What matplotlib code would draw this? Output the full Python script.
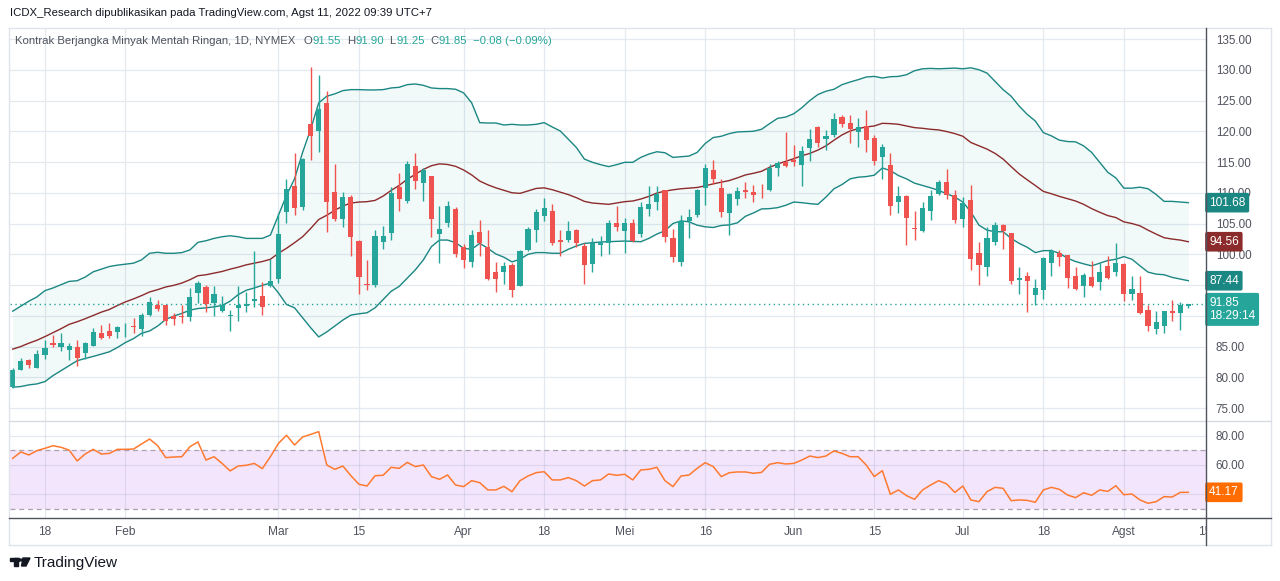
import numpy as np
import pandas as pd
import matplotlib
matplotlib.use('Agg')
import matplotlib.pyplot as plt
from matplotlib.lines import Line2D
from matplotlib.patches import Rectangle, Polygon, Circle
from matplotlib.transforms import blended_transform_factory, Bbox

plt.rcParams['font.family'] = ['Liberation Sans', 'DejaVu Sans']

# trading days shown (CME holidays left out)
dates = pd.bdate_range('2022-01-11', '2022-08-11')
holidays = pd.to_datetime(['2022-01-17', '2022-02-21', '2022-04-15',
                           '2022-05-30', '2022-06-20', '2022-07-04'])
dates = dates[~dates.isin(holidays)]

opens = [78.39, 81.24, 82.80, 81.56, 83.66, 85.59, 84.95, 84.46, 84.90, 83.98, 85.10, 87.15, 87.47, 87.37, 88.10, 88.30,
         87.80, 90.05, 91.80, 91.67, 89.90, 89.90, 89.73, 93.76, 94.73, 92.04, 90.75, 90.00, 91.24, 91.56, 92.42, 93.23,
         94.78, 95.90, 106.88, 111.18, 107.70, 121.18, 120.00, 124.57, 110.20, 105.75, 109.25, 102.15, 95.16, 95.05,
         102.04, 103.44, 110.86, 108.60, 114.41, 111.56, 112.74, 103.33, 105.10, 107.30, 101.13, 98.82, 103.55, 101.18,
         97.15, 97.04, 98.28, 94.89, 100.70, 103.92, 106.24, 106.99, 102.31, 102.31, 103.92, 101.34, 98.49, 101.51,
         101.88, 105.05, 103.82, 105.05, 103.33, 107.31, 108.49, 110.38, 102.63, 98.82, 105.43, 106.34, 110.75, 113.76,
         110.70, 106.67, 108.98, 110.38, 110.16, 110.16, 110.43, 113.98, 114.95, 115.32, 114.57, 117.31, 120.75, 118.76,
         119.41, 122.31, 121.34, 119.95, 120.81, 118.87, 115.75, 114.57, 108.49, 109.41, 104.30, 103.76, 107.04, 109.84,
         111.67, 109.57, 105.75, 108.76, 100.27, 98.01, 102.04, 104.73, 103.39, 95.75, 96.45, 93.33, 94.14, 98.66,
         100.22, 99.89, 96.51, 94.89, 96.34, 95.43, 98.12, 97.15, 98.44, 93.60, 93.76, 90.91, 87.90, 88.33, 90.70,
         90.38, 91.55]
highs = [81.45, 83.12, 82.90, 84.40, 86.02, 86.83, 87.15, 85.54, 86.00, 85.70, 87.96, 88.44, 88.76, 88.28, 88.76, 89.70,
         90.38, 93.10, 92.60, 91.75, 90.50, 91.67, 94.57, 95.70, 95.05, 94.90, 93.28, 91.00, 94.90, 93.90, 100.50, 95.54,
         99.25, 106.67, 112.30, 116.50, 115.60, 130.40, 129.20, 126.60, 114.70, 110.20, 109.57, 102.30, 99.10, 104.00,
         104.57, 111.00, 113.28, 115.20, 116.50, 114.03, 112.80, 107.80, 108.60, 107.69, 101.67, 103.92, 105.54, 103.92,
         98.76, 98.76, 98.66, 100.70, 104.46, 107.42, 109.09, 108.23, 103.92, 105.38, 104.14, 101.77, 102.58, 102.96,
         105.54, 107.90, 105.86, 105.70, 108.44, 111.13, 111.08, 110.45, 104.09, 106.34, 107.31, 110.65, 114.73, 115.38,
         112.26, 110.00, 110.86, 111.77, 111.34, 111.50, 114.68, 115.22, 119.95, 117.80, 117.63, 120.38, 120.91, 120.16,
         123.01, 122.63, 122.63, 122.15, 123.44, 119.41, 118.01, 116.51, 111.02, 109.57, 106.99, 108.44, 110.38, 112.15,
         113.92, 110.38, 109.30, 111.34, 102.04, 104.46, 105.22, 104.89, 103.45, 97.90, 97.10, 96.02, 99.62, 100.81,
         100.70, 99.95, 97.90, 96.94, 98.92, 98.55, 99.73, 101.88, 98.66, 96.40, 96.51, 91.83, 90.70, 90.81, 92.63,
         92.31, 91.90]
lows = [78.30, 81.20, 81.45, 81.50, 83.01, 84.95, 84.30, 82.85, 81.90, 82.96, 85.05, 86.18, 86.34, 86.34, 86.50, 87.15,
        86.67, 90.00, 90.70, 88.44, 88.44, 88.90, 89.10, 92.00, 90.60, 89.95, 90.60, 87.50, 89.14, 90.60, 91.40, 90.10,
        94.62, 95.30, 105.10, 106.40, 107.20, 115.40, 116.70, 103.66, 105.40, 104.50, 99.78, 93.50, 94.14, 94.73,
        100.90, 102.30, 107.04, 108.33, 110.60, 108.66, 102.85, 98.50, 104.46, 99.62, 97.69, 98.01, 99.78, 95.75,
        93.82, 95.22, 93.06, 94.78, 100.54, 102.04, 105.43, 101.51, 99.73, 101.99, 101.13, 95.22, 97.10, 99.78,
        100.11, 103.82, 100.27, 101.99, 102.85, 106.29, 107.15, 101.99, 98.82, 98.17, 102.63, 106.13, 107.96, 111.45,
        106.08, 103.17, 108.01, 109.09, 108.44, 109.09, 110.27, 112.80, 114.14, 114.41, 111.02, 115.11, 117.47, 116.99,
        119.09, 120.75, 118.12, 117.37, 116.56, 114.46, 112.20, 106.34, 106.72, 101.51, 102.31, 103.66, 105.54, 109.57,
        109.03, 105.11, 104.46, 97.37, 95.05, 96.51, 101.51, 100.86, 95.22, 93.60, 90.59, 91.72, 92.80, 96.51,
        98.12, 94.57, 94.25, 93.01, 94.70, 94.25, 95.97, 96.40, 92.37, 92.53, 90.30, 87.47, 86.99, 87.20, 89.09,
        87.69, 91.25]
closes = [81.18, 82.58, 82.04, 83.76, 84.73, 85.32, 85.54, 85.05, 83.17, 85.54, 87.30, 86.34, 86.67, 88.12, 88.20, 88.15,
          90.20, 92.31, 91.18, 89.14, 89.40, 89.80, 93.12, 95.38, 91.88, 93.60, 91.72, 90.16, 91.78, 91.99, 92.80, 91.40,
          95.70, 103.28, 110.54, 107.50, 115.50, 119.20, 123.55, 108.50, 105.75, 109.25, 102.85, 96.24, 94.95, 102.96,
          102.96, 109.90, 108.98, 114.73, 111.99, 113.76, 105.75, 104.03, 107.80, 100.10, 99.14, 103.12, 101.77, 96.02,
          95.97, 98.06, 94.14, 100.48, 104.03, 106.83, 107.47, 101.83, 102.04, 103.71, 101.88, 98.33, 101.77, 101.99,
          105.16, 104.46, 105.05, 102.15, 107.63, 108.12, 109.73, 102.85, 99.62, 105.48, 106.02, 110.43, 114.09, 112.20,
          106.83, 109.73, 110.22, 110.05, 109.62, 110.05, 114.03, 114.84, 114.41, 115.00, 116.72, 118.76, 118.17, 119.25,
          121.99, 121.24, 120.38, 120.70, 118.66, 115.11, 117.47, 107.85, 109.41, 105.91, 104.14, 107.47, 109.41, 111.67,
          109.57, 105.59, 108.33, 99.25, 98.33, 102.63, 104.73, 103.82, 95.59, 96.18, 95.59, 94.57, 99.41, 100.59,
          99.62, 96.18, 94.35, 96.67, 94.78, 97.15, 96.13, 98.66, 93.60, 94.41, 90.38, 88.33, 88.92, 90.70, 90.38,
          91.77, 91.85]

bb_upper = [90.75, 91.56, 92.37, 93.06, 94.09, 94.52, 95.05, 95.59, 95.70, 96.29, 97.15, 97.58, 98.01, 98.23, 98.39,
            98.55, 99.09, 100.16, 100.32, 100.16, 100.16, 100.27, 100.70, 101.94,
            102.20, 102.58, 102.85, 103.01, 102.85, 102.58, 102.58, 102.58, 103.12, 106.34, 109.57, 112.26, 116.56,
            120.32, 124.62, 125.70, 126.08, 126.61, 126.77, 126.77, 126.72, 126.72, 126.77, 127.04,
            127.15, 127.58, 127.69, 127.47, 127.04, 126.94, 126.94, 126.83, 126.24, 124.62, 121.40, 121.34, 121.34,
            121.02, 121.13, 121.02, 121.02, 121.13, 121.40, 120.70, 120.05, 118.71, 117.37, 115.48,
            114.95, 114.57, 114.25, 114.57, 114.95, 114.95, 115.75, 116.29, 116.67, 116.51, 115.75, 115.86, 115.97,
            116.56, 118.01, 118.98, 119.19, 119.62, 119.89, 119.95, 120.00, 120.32, 121.24, 122.10,
            122.31, 122.85, 123.82, 125.00, 125.97, 126.51, 126.83, 127.58, 128.01, 128.39, 128.82, 128.92, 128.66,
            128.87, 128.92, 129.19, 129.84, 130.16, 130.22, 130.16, 130.22, 130.27, 130.16, 130.32,
            130.00, 129.46, 128.12, 126.77, 125.70, 124.09, 122.74, 121.67, 119.78, 119.25, 118.55, 118.33, 118.28,
            117.63, 116.56, 114.95, 113.33, 112.42, 110.75, 110.75, 110.91, 110.65, 109.73, 108.60, 108.60, 108.49,
            108.39]
bb_basis = [84.57, 85.00, 85.54, 86.02, 86.61, 87.26, 87.90, 88.60, 89.03, 89.52, 90.05, 90.59, 91.02, 91.67, 92.26,
            92.74, 93.28, 93.87, 94.25, 94.68, 94.95, 95.32, 95.86, 96.51,
            96.67, 96.94, 97.20, 97.58, 97.90, 98.28, 98.55, 98.82, 99.19, 100.16, 100.97, 101.88, 102.85, 104.19,
            105.65, 106.34, 107.15, 107.85, 108.33, 108.49, 108.55, 108.76, 109.46, 110.38,
            111.20, 112.20, 113.00, 113.80, 114.40, 114.70, 114.60, 114.30, 113.70, 112.90, 111.90, 111.30, 110.80,
            110.40, 110.00, 109.90, 110.30, 110.70, 110.80, 110.50, 110.10, 109.70, 109.20, 108.60,
            108.33, 108.23, 108.12, 108.33, 108.55, 108.66, 108.98, 109.41, 109.95, 110.27, 110.48, 110.65, 110.75,
            110.86, 111.13, 111.45, 111.72, 111.99, 112.42, 112.90, 113.17, 113.49, 114.14, 114.68,
            115.11, 115.54, 116.02, 116.40, 116.94, 117.63, 118.55, 119.41, 120.05, 120.43, 120.70, 120.86, 121.29,
            121.24, 121.13, 120.86, 120.59, 120.48, 120.32, 120.22, 119.95, 119.62, 119.19, 118.17,
            117.63, 117.10, 116.40, 115.48, 114.25, 113.06, 112.10, 111.18, 110.22, 109.84, 109.41, 109.03, 108.66,
            108.12, 107.42, 106.83, 106.29, 105.97, 105.27, 105.00, 104.62, 103.92, 103.28, 102.69, 102.47, 102.31,
            102.04]
bb_lower = [78.39, 78.49, 78.76, 78.92, 79.30, 80.27, 81.08, 81.88, 82.69, 83.06, 83.39, 83.76, 84.14, 84.84, 85.65,
            86.29, 87.15, 87.53, 88.33, 89.41, 89.95, 90.38, 90.91, 91.18,
            91.29, 91.45, 91.67, 92.37, 93.44, 94.14, 94.52, 94.95, 95.32, 93.71, 91.83, 91.29, 89.68, 88.06, 86.56,
            87.37, 88.33, 89.30, 90.11, 90.32, 90.48, 91.29, 92.63, 93.98,
            94.78, 96.13, 97.47, 99.09, 101.24, 102.31, 102.31, 101.88, 100.97, 100.81, 101.77, 100.97, 100.05, 99.52,
            98.76, 99.19, 100.00, 100.27, 100.27, 100.16, 100.16, 100.81, 101.34, 101.77,
            101.88, 101.99, 102.04, 102.10, 102.15, 102.10, 102.04, 102.58, 103.28, 103.82, 105.00, 105.43, 105.27,
            104.73, 104.46, 104.35, 104.68, 104.78, 105.11, 106.18, 106.72, 107.37, 107.42, 107.58,
            107.96, 108.49, 108.39, 108.23, 108.12, 109.30, 110.65, 111.34, 112.26, 112.53, 112.63, 112.85, 114.03,
            113.60, 112.80, 112.26, 111.56, 111.18, 110.81, 110.38, 109.84, 109.30, 108.49, 106.88,
            104.73, 103.92, 103.66, 103.66, 102.58, 101.77, 101.13, 100.27, 100.59, 100.59, 100.16, 99.35, 98.82,
            98.44, 98.12, 98.55, 98.98, 99.19, 99.62, 99.19, 98.12, 97.10, 96.77, 96.67, 96.24, 95.97, 95.70]
rsi = [64.6, 69.0, 66.9, 69.9, 71.5, 73.3, 72.2, 70.3, 62.8, 67.6, 70.8, 67.6, 68.0, 70.8, 70.8, 71.0, 74.5, 77.9,
       73.3, 65.1, 65.5, 65.7, 72.6, 75.9,
       63.4, 65.7, 61.1, 55.9, 59.3, 59.8, 61.1, 57.5, 65.7, 74.9, 80.5, 73.8, 79.3, 81.1, 83.0, 60.0, 57.0, 59.3,
       52.6, 46.7, 45.5, 52.6, 52.9, 58.4,
       57.7, 61.8, 58.9, 60.0, 52.0, 50.1, 53.1, 46.2, 45.1, 49.2, 47.8, 42.8, 42.8, 45.3, 41.6, 49.2, 52.4, 54.7,
       55.4, 49.7, 49.7, 51.3, 49.2, 45.5,
       49.2, 49.7, 53.8, 52.9, 53.6, 49.7, 56.6, 57.0, 58.4, 49.2, 45.1, 52.4, 53.1, 57.7, 61.6, 58.9, 52.0, 54.7,
       55.2, 55.2, 54.3, 54.9, 60.5, 61.6,
       60.7, 61.1, 63.4, 66.2, 65.1, 66.2, 69.7, 68.0, 65.7, 65.7, 60.0, 52.0, 56.1, 39.8, 42.8, 38.9, 36.3, 42.8,
       46.2, 49.2, 46.9, 41.1, 45.5, 35.9,
       34.7, 41.6, 44.6, 43.9, 35.4, 35.9, 35.6, 34.3, 42.8, 44.6, 43.2, 39.3, 37.5, 40.9, 39.1, 42.8, 41.8, 45.7,
       39.5, 40.0, 35.9, 33.6, 34.7, 38.2, 37.9, 41.1, 41.17]

tick_dates = ['2022-01-18', '2022-02-01', '2022-03-01', '2022-03-15', '2022-04-01', '2022-04-18', '2022-05-02',
              '2022-05-16', '2022-06-01', '2022-06-15', '2022-07-01', '2022-07-18', '2022-08-01']
tick_labels = ['18', 'Feb', 'Mar', '15', 'Apr', '18', 'Mei', '16', 'Jun', '15', 'Jul', '18', 'Agst']
price_ticks = [75, 80, 85, 90, 95, 100, 105, 110, 115, 120, 125, 130, 135]
hidden_ticks = [90, 95]  # covered by the price badges in the original

UP = '#26a69a'
DOWN = '#ef5350'
BAND = '#1b8783'
BASIS = '#8c2b2b'
GRID = '#e3e9ef'
TXT = '#50535e'

W, H = 1280, 581


def fx(x):
    return x / W


def fy(y):
    return 1 - y / H


fig = plt.figure(figsize=(W / 100, H / 100), dpi=100)
fig.patch.set_facecolor('white')

ax = fig.add_axes([fx(10), fy(421), (1206 - 10) / W, (421 - 28) / H])
ax_rsi = fig.add_axes([fx(10), fy(518), (1206 - 10) / W, (518 - 421) / H])

x = np.arange(len(dates))
o = np.array(opens)
c = np.array(closes)
colors = [UP if cc >= oo else DOWN for oo, cc in zip(o, c)]
tick_idx = [dates.get_loc(pd.Timestamp(d)) for d in tick_dates]

# ---- price pane
ax.fill_between(x, bb_lower, bb_upper, color='#26a69a', alpha=0.06, lw=0, zorder=1)
ax.plot(x, bb_upper, color=BAND, lw=1.0, zorder=2)
ax.plot(x, bb_lower, color=BAND, lw=1.0, zorder=2)
ax.plot(x, bb_basis, color=BASIS, lw=1.0, zorder=2)

ax.vlines(x, lows, highs, colors=colors, lw=1.0, zorder=3)
body_low = np.minimum(o, c)
body_h = np.maximum(np.abs(c - o), 0.15)
ax.bar(x, body_h, bottom=body_low, width=0.64, color=colors, lw=0, zorder=4)

ax.axhline(closes[-1], color=UP, lw=1.0, ls=(0, (1, 2.5)), zorder=2)

ax.set_xlim(-0.34, 148.2)
ax.set_ylim(72.89, 136.79)
ax.set_yticks(price_ticks)
ax.set_yticklabels(['' if v in hidden_ticks else f'{v:.2f}' for v in price_ticks])
ax.set_xticks(tick_idx)
ax.set_xticklabels([])
ax.yaxis.tick_right()
ax.tick_params(axis='both', length=0)
ax.tick_params(axis='y', pad=7, labelsize=8.4, labelcolor=TXT)
ax.grid(True, color=GRID, lw=0.9, zorder=0)
ax.set_axisbelow(True)
for s in ax.spines.values():
    s.set_visible(False)

bt = blended_transform_factory(ax.transAxes, ax.transData)


def badge(axis, y, text, color, tr):
    axis.text(1.0 + 3 / 1196, y, text, transform=tr, ha='left', va='center', color='white',
              fontsize=8.6, clip_on=False, zorder=10,
              bbox=dict(boxstyle='round,pad=0.32,rounding_size=0.15', fc=color, ec='none'))


badge(ax, bb_upper[-1], '101.68', BAND, bt)
badge(ax, bb_basis[-1], '94.56', BASIS, bt)
badge(ax, bb_lower[-1], '87.44', BAND, bt)
ax.text(1.0 + 3 / 1196, closes[-1] + 1.25, '91.85\n18:29:14', transform=bt, ha='left', va='top',
        color='white', fontsize=8.6, linespacing=1.15, clip_on=False, zorder=10,
        bbox=dict(boxstyle='round,pad=0.32,rounding_size=0.15', fc=UP, ec='none'))

# ---- RSI pane
ax_rsi.axhspan(30, 70, color='#f3e5fc', lw=0, zorder=0)
for v in [80, 60, 40]:
    ax_rsi.axhline(v, color=(0.55, 0.62, 0.72, 0.22), lw=0.9, zorder=1)
for t in tick_idx:
    ax_rsi.axvline(t, color=(0.55, 0.62, 0.72, 0.22), lw=0.9, zorder=1)
ax_rsi.axhline(70, color='#a9a4b0', lw=0.9, ls=(0, (4, 3)), zorder=2)
ax_rsi.axhline(30, color='#a9a4b0', lw=0.9, ls=(0, (4, 3)), zorder=2)
ax_rsi.plot(x, rsi, color='#ff7a30', lw=1.1, zorder=3)
ax_rsi.set_xlim(-0.34, 148.2)
ax_rsi.set_ylim(23.45, 90.34)
ax_rsi.set_yticks([60, 80])
ax_rsi.set_yticklabels(['60.00', '80.00'])
ax_rsi.yaxis.tick_right()
ax_rsi.set_xticks(tick_idx)
ax_rsi.set_xticklabels(tick_labels)
ax_rsi.tick_params(axis='both', length=0)
ax_rsi.tick_params(axis='y', pad=7, labelsize=8.4, labelcolor=TXT)
ax_rsi.tick_params(axis='x', pad=6, labelsize=8.6, labelcolor=TXT)
for s in ax_rsi.spines.values():
    s.set_visible(False)
rt = blended_transform_factory(ax_rsi.transAxes, ax_rsi.transData)
badge(ax_rsi, rsi[-1], '41.17', '#ff6d00', rt)

# next tick (Aug 15) sits on the edge and is cut by the price scale
aug15 = len(dates) + 1
xpix = ax_rsi.transData.transform((aug15, 0))[0]
fig.text(xpix / W, fy(532), '15', ha='center', va='center', fontsize=8.6, color=TXT,
         clip_on=True, clip_box=Bbox([[0, 0], [1206, H]]))


# ---- frame lines
def line(x0, y0, x1, y1, color, lw=1.0):
    fig.add_artist(Line2D([fx(x0), fx(x1)], [fy(y0), fy(y1)], color=color, lw=lw))


line(9, 27.5, 1271, 27.5, '#e0e3eb')
line(9, 545, 1271, 545, '#e0e3eb')
line(9, 27.5, 9, 545, '#e0e3eb')
line(1271, 27.5, 1271, 545, '#e0e3eb')
line(9, 421, 1271, 421, '#d6dbe2')
line(9, 518, 1271, 518, '#50535e')
line(1206, 27.5, 1206, 545, '#50535e')

# ---- texts
fig.text(fx(10), fy(13), 'ICDX_Research dipublikasikan pada TradingView.com, Agst 11, 2022 09:39 UTC+7',
         ha='left', va='center', fontsize=8.2, color='#131722')

legend_parts = [('O', TXT, 6), ('91.55', UP, 0.3), ('H', TXT, 4), ('91.90', UP, 0.3),
                ('L', TXT, 4), ('91.25', UP, 0.3), ('C', TXT, 4), ('91.85', UP, 0.3),
                ('\u22120.08 (\u22120.09%)', UP, 4)]
prev = fig.text(fx(15), fy(41), 'Kontrak Berjangka Minyak Mentah Ringan, 1D, NYMEX',
                ha='left', va='center', fontsize=8.2, color=TXT)
for txt, col, gap in legend_parts:
    prev = ax.annotate(txt, xy=(1, 0.5), xycoords=prev, xytext=(gap, 0), textcoords='offset points',
                       ha='left', va='center', fontsize=8.2, color=col, annotation_clip=False)

# TradingView logo + name
fig.add_artist(Rectangle((fx(10), fy(561)), 9 / W, 3.5 / H, color='#131722'))
fig.add_artist(Rectangle((fx(14), fy(566)), 3.5 / W, 8 / H, color='#131722'))
fig.add_artist(Circle((fx(21), fy(560)), 1.8 / W, color='#131722'))
fig.add_artist(Polygon([(fx(23), fy(558)), (fx(30), fy(558)), (fx(26), fy(566)), (fx(21.5), fy(566))],
                       color='#131722'))
fig.text(fx(34), fy(563), 'TradingView', ha='left', va='center', fontsize=11, color='#131722')

fig.savefig('out.png', dpi=100, facecolor='white')
